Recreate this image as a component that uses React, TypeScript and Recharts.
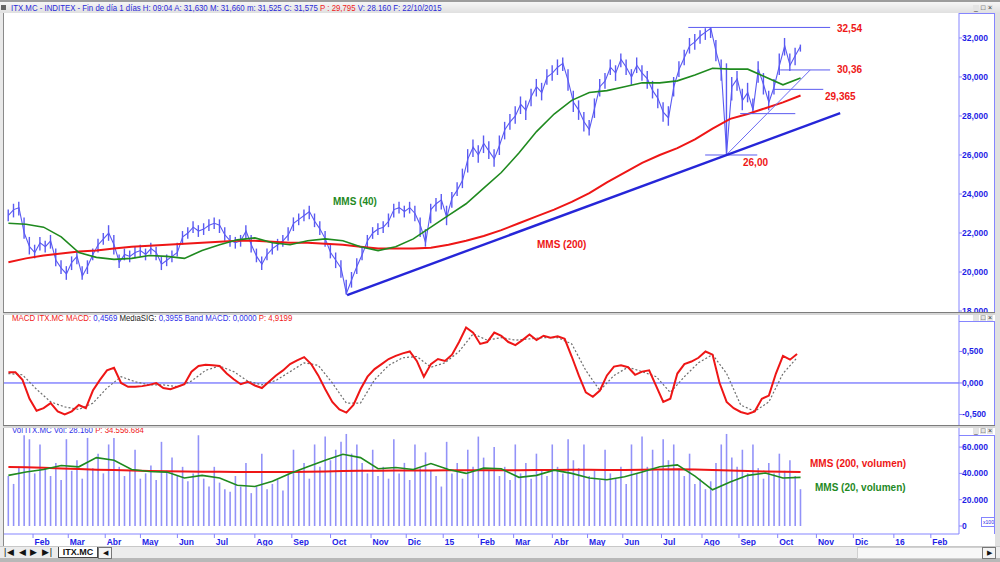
import React from "react";
import { ComposedChart, Line, Bar, XAxis, YAxis, ReferenceLine } from "recharts";

// x axis unit: trading days, 0 = first session of Feb 2014
const FIRST_DAY = -14;
const PRICE_STEP = 3;
const AVG_STEP = 10;
const MACD_STEP = 4;
const SIGNAL_STEP = 8;
const X_DOMAIN: [number, number] = [-16.5, 526];

const monthLabels = [
  "Feb", "Mar", "Abr", "May", "Jun", "Jul", "Ago", "Sep", "Oct", "Nov", "Dic", "15",
  "Feb", "Mar", "Abr", "May", "Jun", "Jul", "Ago", "Sep", "Oct", "Nov", "Dic", "16", "Feb",
];
// trading sessions per month, Feb 2014 .. Jan 2016
const monthSessions = [20, 21, 20, 21, 21, 23, 21, 22, 23, 20, 21, 20, 20, 22, 20, 20, 22, 23, 21, 22, 22, 21, 23, 21];

const priceClose = [
  22.9, 23.2, 23.3, 22.0, 21.3, 21.0, 21.5, 21.3, 21.6, 20.6,
  20.2, 19.9, 20.5, 20.8, 19.8, 20.3, 20.9, 21.4, 21.7, 22.0,
  21.4, 20.5, 20.9, 20.8, 21.0, 21.1, 20.9, 21.2, 21.0, 20.4,
  20.6, 20.8, 21.0, 21.8, 22.0, 22.3, 22.1, 22.2, 22.4, 22.5,
  22.4, 21.9, 21.6, 21.5, 21.6, 22.1, 21.4, 20.8, 20.4, 20.9,
  21.2, 21.4, 21.6, 21.9, 22.5, 22.7, 22.9, 23.1, 22.6, 22.2,
  21.7, 21.0, 20.6, 20.2, 18.9, 19.6, 20.3, 20.9, 21.6, 22.0,
  22.2, 22.3, 22.6, 23.2, 23.3, 23.1, 23.3, 23.0, 22.4, 21.5,
  23.2, 23.5, 23.7, 22.8, 23.8, 24.2, 24.7, 25.8, 26.4, 26.0,
  26.6, 26.2, 25.8, 26.5, 27.3, 27.7, 28.0, 28.6, 28.3, 29.0,
  29.5, 29.2, 30.0, 30.2, 30.5, 30.7, 29.8, 28.7, 28.3, 27.7,
  27.3, 28.4, 29.5, 29.8, 30.5, 30.2, 30.9, 30.5, 30.0, 30.6,
  30.2, 29.9, 29.3, 28.9, 28.2, 27.9, 29.5, 30.4, 31.0, 31.6,
  31.8, 32.1, 32.3, 32.5, 31.3, 30.3, 26.1, 29.5, 29.9, 28.8,
  29.2, 28.3, 30.4, 29.6, 28.7, 29.5, 30.6, 31.6, 30.6, 31.1,
  31.58,
];

const priceHigh = [
  23.2, 23.5, 23.6, 22.8, 21.8, 21.4, 21.8, 21.6, 21.9, 21.2,
  20.6, 20.3, 20.8, 21.1, 20.3, 20.6, 21.2, 21.7, 22.0, 22.4,
  21.9, 20.9, 21.2, 21.1, 21.3, 21.4, 21.2, 21.5, 21.3, 20.8,
  20.9, 21.1, 21.5, 22.1, 22.3, 22.6, 22.4, 22.5, 22.7, 22.8,
  22.7, 22.3, 21.9, 21.8, 21.9, 22.4, 21.9, 21.2, 20.8, 21.2,
  21.5, 21.7, 21.9, 22.3, 22.8, 23.0, 23.2, 23.4, 23.0, 22.6,
  22.1, 21.4, 21.0, 20.6, 19.6, 20.0, 20.7, 21.3, 21.9, 22.3,
  22.5, 22.6, 23.0, 23.5, 23.6, 23.4, 23.6, 23.4, 22.8, 22.2,
  23.5, 23.8, 24.0, 23.4, 24.1, 24.6, 25.3, 26.3, 26.8, 26.5,
  27.0, 26.7, 26.3, 27.0, 27.7, 28.1, 28.5, 29.0, 28.8, 29.4,
  29.9, 29.7, 30.4, 30.6, 30.9, 31.0, 30.4, 29.3, 28.8, 28.2,
  27.8, 28.9, 29.9, 30.2, 30.9, 30.6, 31.2, 30.9, 30.4, 31.0,
  30.6, 30.3, 29.8, 29.4, 28.7, 28.5, 30.0, 30.8, 31.4, 32.0,
  32.2, 32.4, 32.5, 32.54, 31.9, 30.9, 30.7, 30.0, 30.3, 29.4,
  29.7, 28.9, 30.8, 30.2, 29.3, 29.9, 31.2, 32.0, 31.2, 31.5,
  31.66,
];

const priceLow = [
  22.6, 22.8, 22.9, 21.7, 20.9, 20.7, 21.1, 21.0, 21.2, 20.3,
  19.9, 19.6, 20.1, 20.4, 19.6, 19.9, 20.6, 21.0, 21.4, 21.6,
  20.9, 20.2, 20.6, 20.5, 20.7, 20.8, 20.6, 20.9, 20.6, 20.1,
  20.3, 20.5, 20.8, 21.4, 21.7, 22.0, 21.8, 21.9, 22.1, 22.2,
  22.0, 21.6, 21.3, 21.2, 21.3, 21.7, 21.0, 20.5, 20.1, 20.6,
  20.9, 21.1, 21.3, 21.6, 22.1, 22.4, 22.6, 22.7, 22.3, 21.9,
  21.3, 20.7, 20.2, 19.7, 18.85, 19.2, 19.9, 20.6, 21.2, 21.7,
  21.9, 22.0, 22.3, 22.8, 23.0, 22.8, 23.0, 22.6, 21.8, 21.3,
  22.5, 23.1, 23.2, 22.4, 23.3, 23.9, 24.3, 25.1, 25.9, 25.6,
  26.1, 25.8, 25.4, 26.0, 26.8, 27.3, 27.6, 28.1, 27.8, 28.5,
  29.0, 28.8, 29.6, 29.8, 30.1, 30.3, 29.3, 28.2, 27.8, 27.2,
  27.0, 27.9, 29.0, 29.4, 30.1, 29.8, 30.5, 30.1, 29.6, 30.2,
  29.8, 29.4, 28.9, 28.4, 27.7, 27.5, 29.0, 30.0, 30.6, 31.2,
  31.4, 31.7, 31.9, 32.0, 30.8, 29.8, 26.0, 28.8, 29.3, 28.3,
  28.7, 28.1, 29.7, 29.1, 28.3, 29.1, 30.1, 31.1, 30.3, 30.6,
  31.3,
];

const mms40 = [
  22.5, 22.45, 22.3, 21.8, 21.0, 20.75, 20.65, 20.7, 20.85, 20.8,
  20.7, 21.1, 21.4, 21.65, 21.75, 21.5, 21.4, 21.6, 21.7, 21.6,
  21.3, 21.1, 21.3, 21.7, 22.3, 22.9, 23.5, 24.3, 25.1, 26.1,
  27.2, 28.1, 28.8, 29.2, 29.3, 29.5, 29.7, 29.7, 29.8, 30.1,
  30.45, 30.4, 30.4, 30.0, 29.6, 29.95,
];

const mms200 = [
  20.5, 20.7, 20.85, 20.95, 21.05, 21.1, 21.2, 21.3, 21.35, 21.4,
  21.45, 21.5, 21.55, 21.6, 21.6, 21.55, 21.5, 21.5, 21.45, 21.4,
  21.3, 21.2, 21.2, 21.2, 21.25, 21.4, 21.6, 21.85, 22.15, 22.5,
  22.85, 23.2, 23.6, 24.05, 24.6, 25.1, 25.6, 26.0, 26.35, 26.8,
  27.35, 27.85, 28.1, 28.4, 28.7, 29.05,
];

const macdValues = [
  0.17, 0.17, 0.05, -0.25, -0.44, -0.4, -0.32, -0.45, -0.5, -0.45,
  -0.35, -0.4, -0.12, 0.05, 0.2, 0.24, 0.0, -0.06, -0.06, -0.05,
  -0.03, 0.0, -0.08, -0.1, -0.06, -0.02, 0.18, 0.27, 0.29, 0.28,
  0.27, 0.15, 0.06, -0.02, 0.02, -0.04, -0.08, 0.02, 0.12, 0.2,
  0.3, 0.36, 0.41, 0.3, 0.12, -0.1, -0.3, -0.42, -0.47, -0.35,
  -0.1, 0.1, 0.22, 0.3, 0.38, 0.43, 0.47, 0.5, 0.35, 0.1,
  0.3, 0.38, 0.35, 0.45, 0.65, 0.88, 0.8, 0.62, 0.65, 0.8,
  0.75, 0.65, 0.6, 0.68, 0.77, 0.68, 0.75, 0.72, 0.74, 0.7,
  0.42, 0.12, -0.15, -0.22, -0.12, 0.12, 0.26, 0.28, 0.25, 0.13,
  0.18, 0.2, -0.05, -0.3, -0.25, 0.15, 0.3, 0.34, 0.4, 0.5,
  0.45, 0.0, -0.3, -0.4, -0.46, -0.49, -0.45, -0.25, -0.2, 0.15,
  0.43, 0.37, 0.46,
];

const macdSignal = [
  0.15, 0.13, -0.1, -0.3, -0.38, -0.42, -0.32, -0.08, 0.1, 0.02,
  -0.03, -0.03, -0.06, 0.03, 0.2, 0.27, 0.18, 0.03, -0.03, 0.04,
  0.18, 0.32, 0.28, 0.0, -0.32, -0.32, 0.05, 0.28, 0.4, 0.42,
  0.25, 0.32, 0.5, 0.78, 0.68, 0.72, 0.68, 0.7, 0.72, 0.72,
  0.62, 0.2, -0.12, 0.12, 0.25, 0.18, 0.1, -0.15, 0.1, 0.32,
  0.45, 0.15, -0.35, -0.45, -0.3, 0.15, 0.4,
];

// volume in thousands (display units x100)
const volume = [
  38, 32, 45, 69, 66, 40, 62, 44, 38, 48,
  35, 66, 42, 50, 36, 67, 44, 55, 40, 62,
  67, 45, 38, 42, 58, 36, 40, 46, 35, 64,
  42, 52, 38, 45, 34, 40, 69, 36, 30, 45,
  33, 28, 26, 38, 30, 48, 25, 30, 55, 28,
  32, 35, 27, 40, 58, 42, 48, 36, 62, 45,
  68, 50, 58, 64, 70, 55, 62, 48, 40, 58,
  38, 45, 36, 66, 40, 48, 35, 62, 44, 56,
  42, 38, 30, 64, 40, 48, 36, 58, 45, 68,
  52, 42, 60, 38, 45, 35, 62, 40, 48, 36,
  55, 42, 38, 62, 45, 40, 66, 50, 44, 62,
  38, 42, 35, 58, 40, 36, 45, 32, 62, 40,
  68, 45, 58, 42, 66, 50, 62, 44, 38, 55,
  32, 36, 28, 34, 48, 62, 70, 52, 45, 58,
  40, 62, 44, 36, 48, 40, 55, 42, 50, 38,
  28,
];

const volMms200 = [
  44.8, 44.6, 44.3, 43.8, 43.3, 42.8, 42.5, 42.2, 41.9, 41.7,
  41.5, 41.3, 41.2, 41.1, 41.0, 41.0, 41.1, 41.3, 41.5, 41.8,
  42.0, 42.1, 42.2, 42.2, 42.2, 42.3, 42.3, 42.4, 42.4, 42.4,
  42.5, 42.6, 42.7, 42.7, 42.6, 42.6, 42.8, 43.0, 43.2, 43.0,
  42.6, 42.2, 41.8, 41.5, 41.2, 41.0,
];

const volMms20 = [
  38.5, 41, 43, 46, 45, 52, 50, 43, 41.5, 41,
  36.5, 38.5, 36.5, 31, 30, 34, 40, 45, 50, 54.5,
  52, 43.5, 44.5, 43, 47.5, 43, 40, 44, 43.5, 37,
  38.5, 42.5, 40, 36.5, 35.2, 37.5, 41, 45, 46.5, 38,
  27.5, 33.5, 38.5, 40.3, 36.5, 37,
];

const priceTicks = [18, 20, 22, 24, 26, 28, 30, 32];
const macdTicks = [-0.5, 0, 0.5];
const volTicks = [0, 20, 40, 60];

// drawn annotations, in (session, price)
const trendLine = [{ d: 178.4, v: 18.82 }, { d: 458.5, v: 28.15 }];
const diagonalLine = [{ d: 393.8, v: 26.0 }, { d: 441.5, v: 30.36 }];
const levelLines = [
  { from: 372.2, to: 452.8, v: 32.54 },
  { from: 424.4, to: 452.8, v: 30.36 },
  { from: 420.5, to: 448.9, v: 29.365 },
  { from: 401.7, to: 433.0, v: 28.12 },
  { from: 381.8, to: 411.4, v: 26.0 },
];

const FONT = '"Liberation Sans", Arial, sans-serif';
const AXIS = "#8585ff";
const AXIS_TEXT = "#1e1ee6";
const RED = "#ee1616";
const GREEN = "#1f8a1f";
const PRICE = "#5a5af2";

type Part = { key: string; start: number; step: number; values: number[] };
function mergeRows(parts: Part[]) {
  const map = new Map<number, any>();
  parts.forEach((p) =>
    p.values.forEach((v, i) => {
      const d = p.start + i * p.step;
      const row = map.get(d) ?? { d };
      row[p.key] = v;
      map.set(d, row);
    })
  );
  return [...map.values()].sort((a, b) => a.d - b.d);
}

const priceRows = mergeRows([
  { key: "close", start: FIRST_DAY, step: PRICE_STEP, values: priceClose },
  { key: "hi", start: FIRST_DAY, step: PRICE_STEP, values: priceHigh },
  { key: "lo", start: FIRST_DAY, step: PRICE_STEP, values: priceLow },
  { key: "ma40", start: FIRST_DAY, step: AVG_STEP, values: mms40 },
  { key: "ma200", start: FIRST_DAY, step: AVG_STEP, values: mms200 },
]);
priceRows.forEach((r) => {
  if (r.hi != null) r.range = [r.lo, r.hi];
});
const macdRows = mergeRows([
  { key: "macd", start: FIRST_DAY, step: MACD_STEP, values: macdValues },
  { key: "sig", start: FIRST_DAY, step: SIGNAL_STEP, values: macdSignal },
]);
const volRows = mergeRows([
  { key: "vol", start: FIRST_DAY, step: PRICE_STEP, values: volume },
  { key: "v200", start: FIRST_DAY, step: AVG_STEP, values: volMms200 },
  { key: "v20", start: FIRST_DAY, step: AVG_STEP, values: volMms20 },
]);

const monthTicks: number[] = [0];
monthSessions.forEach((n, i) => monthTicks.push(monthTicks[i] + n));

const comma3 = (v: number) => v.toFixed(3).replace(".", ",");
const volFmt = (v: number) => (v === 0 ? "0" : `${v}.000`);

function RightTick(props: any) {
  const { x, y, payload, fmt } = props;
  return (
    <text x={x} y={y} dy={3} fontSize={8.5} fontWeight="bold" fill={AXIS_TEXT} fontFamily={FONT} textAnchor="start">
      {fmt(payload.value)}
    </text>
  );
}

function MonthTick(props: any) {
  const { x, y, payload } = props;
  const i = monthTicks.indexOf(payload.value);
  return (
    <text x={x + 1.5} y={y + 7} fontSize={8.5} fontWeight="bold" fill={AXIS_TEXT} fontFamily={FONT}>
      {monthLabels[i] ?? ""}
    </text>
  );
}

function yAxisProps(domain: [number, number], ticks: number[], fmt: (v: number) => string) {
  return {
    orientation: "right" as const,
    width: 36,
    type: "number" as const,
    domain,
    ticks,
    interval: 0 as const,
    allowDataOverflow: true,
    tickSize: 3,
    tickMargin: 0,
    axisLine: { stroke: AXIS },
    tickLine: { stroke: AXIS },
    tick: (p: any) => <RightTick {...p} fmt={fmt} />,
  };
}

function WinButtons({ top }: { top: number }) {
  return (
    <div style={{ position: "absolute", left: 973, top, display: "flex", gap: 1 }}>
      {["_", "□", "×"].map((c) => (
        <div key={c} style={{ width: 6, height: 6, fontSize: 7, lineHeight: "6px", color: "#333", textAlign: "center", background: "#e4e4e4" }}>
          {c}
        </div>
      ))}
    </div>
  );
}

const textBox = (left: number, top: number, color: string, size = 10): React.CSSProperties => ({
  position: "absolute",
  left,
  top,
  color,
  fontSize: size,
  fontWeight: "bold",
  fontFamily: FONT,
  whiteSpace: "nowrap",
  lineHeight: "12px",
});

const smallText = (left: number, top: number): React.CSSProperties => ({
  position: "absolute",
  left,
  top,
  fontSize: 9,
  fontFamily: FONT,
  whiteSpace: "nowrap",
  lineHeight: "10px",
  transform: "scaleX(0.87)",
  transformOrigin: "left center",
});

export default function App() {
  const W = 991;
  return (
    <div style={{ position: "fixed", left: 0, top: 0, width: 1000, height: 562, background: "#e9e9e9", overflow: "hidden", fontFamily: FONT }}>
      <div style={{ position: "absolute", left: 0, top: 0, width: 1000, height: 2, background: "#9c9c9c" }} />
      <div style={{ position: "absolute", left: 0, top: 2, width: 1000, height: 11, background: "linear-gradient(#f6f6f6,#e0e0e0)" }} />
      <div style={{ position: "absolute", left: 1, top: 5, width: 5, height: 5, background: "#666" }} />
      <div style={{ ...smallText(11, 3), color: "#2a2ad8" }}>
        ITX.MC - INDITEX - Fin de día 1 días H: 09:04 A: 31,630 M: 31,660 m: 31,525 C: 31,575{" "}
        <span style={{ color: "#f02020" }}>P : 29,795</span> V: 28.160 F: 22/10/2015
      </div>
      <WinButtons top={5} />

      <div style={{ position: "absolute", left: 4, top: 13, width: W, height: 533, background: "#fff" }} />
      <div style={{ position: "absolute", left: 3, top: 13, width: 1, height: 533, background: "#8a8a8a" }} />

      {/* price panel */}
      <div style={{ position: "absolute", left: 4, top: 13 }}>
        <ComposedChart width={W} height={299} data={priceRows} margin={{ top: 0, right: 0, bottom: 0, left: 0 }}>
          <XAxis type="number" dataKey="d" domain={X_DOMAIN} allowDataOverflow hide />
          <YAxis {...yAxisProps([17.95, 33.28], priceTicks, comma3)} />
          <Bar dataKey="range" fill={PRICE} barSize={1.4} isAnimationActive={false} />
          <Line dataKey="close" stroke={PRICE} strokeWidth={1.1} dot={false} connectNulls isAnimationActive={false} />
          <Line dataKey="ma200" stroke={RED} strokeWidth={2} dot={false} connectNulls isAnimationActive={false} />
          <Line dataKey="ma40" stroke={GREEN} strokeWidth={1.6} dot={false} connectNulls isAnimationActive={false} />
          {levelLines.map((l, i) => (
            <ReferenceLine key={i} segment={[{ x: l.from, y: l.v }, { x: l.to, y: l.v }]} stroke="#5a5af0" strokeWidth={1} />
          ))}
          <ReferenceLine segment={[{ x: diagonalLine[0].d, y: diagonalLine[0].v }, { x: diagonalLine[1].d, y: diagonalLine[1].v }]} stroke="#6a6af2" strokeWidth={1} />
          <ReferenceLine segment={[{ x: trendLine[0].d, y: trendLine[0].v }, { x: trendLine[1].d, y: trendLine[1].v }]} stroke="#2626d8" strokeWidth={2.4} />
        </ComposedChart>
      </div>
      <div style={textBox(837, 23, RED)}>32,54</div>
      <div style={textBox(837, 64, RED)}>30,36</div>
      <div style={textBox(825, 91, RED)}>29,365</div>
      <div style={textBox(743, 157, RED)}>26,00</div>
      <div style={textBox(333, 196, GREEN)}>MMS (40)</div>
      <div style={textBox(537, 239, RED)}>MMS (200)</div>

      {/* MACD panel */}
      <div style={{ position: "absolute", left: 4, top: 315 }}>
        <ComposedChart width={W} height={110} data={macdRows} margin={{ top: 0, right: 0, bottom: 0, left: 0 }}>
          <XAxis type="number" dataKey="d" domain={X_DOMAIN} allowDataOverflow hide />
          <YAxis {...yAxisProps([-0.667, 1.079], macdTicks, comma3)} />
          <ReferenceLine y={0} stroke="#4a4aff" strokeWidth={1} />
          <Line dataKey="sig" stroke="#6e6e6e" strokeWidth={1.2} strokeDasharray="2 2" dot={false} connectNulls isAnimationActive={false} />
          <Line dataKey="macd" stroke={RED} strokeWidth={2} dot={false} connectNulls isAnimationActive={false} />
        </ComposedChart>
      </div>
      <div style={smallText(12, 313)}>
        <span style={{ color: "#f02020" }}>MACD ITX.MC MACD: </span>
        <span style={{ color: "#3030e8" }}>0,4569 </span>
        <span style={{ color: "#222" }}>MediaSIG: </span>
        <span style={{ color: "#3030e8" }}>0,3955 Band MACD: 0,0000 </span>
        <span style={{ color: "#f02020" }}>P: 4,9199</span>
      </div>

      {/* volume panel */}
      <div style={{ position: "absolute", left: 4, top: 428 }}>
        <ComposedChart width={W} height={118} data={volRows} margin={{ top: 0, right: 0, bottom: 0, left: 0 }}>
          <XAxis
            type="number"
            dataKey="d"
            domain={X_DOMAIN}
            allowDataOverflow
            ticks={monthTicks}
            interval={0}
            tick={(p: any) => <MonthTick {...p} />}
            tickSize={4}
            tickMargin={0}
            height={12}
            axisLine={{ stroke: AXIS }}
            tickLine={{ stroke: AXIS }}
          />
          <YAxis {...yAxisProps([-6.08, 74.52], volTicks, volFmt)} />
          <Bar dataKey="vol" fill="#9292f8" barSize={4} isAnimationActive={false} />
          <Line dataKey="v200" stroke={RED} strokeWidth={2} dot={false} connectNulls isAnimationActive={false} />
          <Line dataKey="v20" stroke={GREEN} strokeWidth={1.6} dot={false} connectNulls isAnimationActive={false} />
        </ComposedChart>
      </div>
      <div style={{ ...smallText(12, 425), color: "#3030e8" }}>
        Vol ITX.MC Vol: 28.160 <span style={{ color: "#f02020" }}>P: 34.556.684</span>
      </div>
      <div style={textBox(810, 458, RED)}>MMS (200, volumen)</div>
      <div style={textBox(815, 482, GREEN)}>MMS (20, volumen)</div>
      <div style={{ position: "absolute", left: 981, top: 517, width: 13, height: 8, border: `1px solid ${AXIS}`, fontSize: 5, lineHeight: "8px", color: AXIS_TEXT, textAlign: "center", background: "#fff" }}>x100</div>

      {/* panel separators */}
      <div style={{ position: "absolute", left: 3, top: 312, width: 992, height: 1, background: "#7c7c7c" }} />
      <div style={{ position: "absolute", left: 3, top: 313, width: 992, height: 2, background: "#d6d6d6" }} />
      <div style={{ position: "absolute", left: 3, top: 425, width: 992, height: 1, background: "#7c7c7c" }} />
      <div style={{ position: "absolute", left: 3, top: 426, width: 992, height: 2, background: "#d6d6d6" }} />
      <WinButtons top={315} />
      <WinButtons top={428} />

      {/* axis pane borders */}
      <div style={{ position: "absolute", left: 994, top: 13, width: 1, height: 299, background: AXIS }} />
      <div style={{ position: "absolute", left: 959, top: 13, width: 36, height: 1, background: AXIS }} />
      <div style={{ position: "absolute", left: 994, top: 321, width: 1, height: 104, background: AXIS }} />
      <div style={{ position: "absolute", left: 959, top: 321, width: 36, height: 1, background: AXIS }} />
      <div style={{ position: "absolute", left: 994, top: 435, width: 1, height: 99, background: AXIS }} />
      <div style={{ position: "absolute", left: 959, top: 435, width: 36, height: 1, background: AXIS }} />
      <div style={{ position: "absolute", left: 995, top: 13, width: 5, height: 533, background: "#e0e0e0" }} />

      {/* bottom tab bar */}
      <div style={{ position: "absolute", left: 0, top: 546, width: 1000, height: 12, background: "#ececec", borderTop: "1px solid #c8c8c8" }} />
      <div style={{ position: "absolute", left: 0, top: 558, width: 1000, height: 4, background: "#b8b8b8" }} />
      <div style={{ position: "absolute", left: 4, top: 547, fontSize: 9, lineHeight: "11px", color: "#111", letterSpacing: 1 }}>
        |◀ ◀ ▶ ▶|
      </div>
      <div style={{ position: "absolute", left: 58, top: 547, width: 38, height: 10, borderLeft: "1px solid #444", borderRight: "1px solid #444", borderBottom: "1px solid #444", background: "#fff", fontSize: 9, lineHeight: "10px", fontWeight: "bold", color: "#111", textAlign: "center" }}>
        ITX.MC
      </div>
      <div style={{ position: "absolute", left: 98, top: 547, width: 12, height: 10, border: "1px solid #777", fontSize: 7, lineHeight: "10px", textAlign: "center", color: "#111", background: "#f4f4f4" }}>◀</div>
      <div style={{ position: "absolute", left: 857, top: 547, width: 124, height: 10, background: "#f7f7f7", border: "1px solid #d0d0d0" }} />
      <div style={{ position: "absolute", left: 982, top: 547, width: 12, height: 10, border: "1px solid #777", fontSize: 7, lineHeight: "10px", textAlign: "center", color: "#111", background: "#f4f4f4" }}>▶</div>
    </div>
  );
}
